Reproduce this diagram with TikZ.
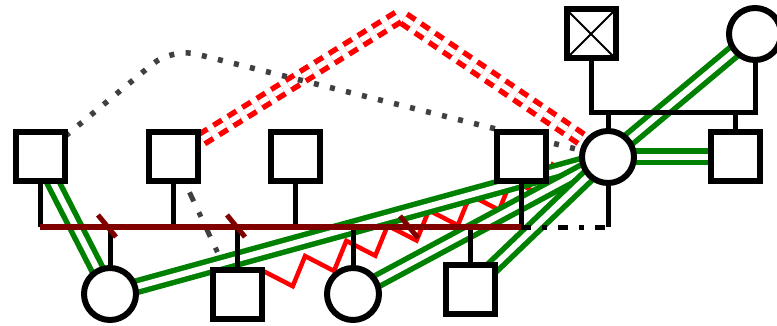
\documentclass[tikz,border=0pt]{standalone}
\usetikzlibrary{decorations.pathmorphing}
\definecolor{relgreen}{RGB}{0,128,0}
\definecolor{sibred}{RGB}{128,0,0}
\definecolor{dgray}{RGB}{64,64,64}
\pgfdeclarelayer{bg}
\pgfsetlayers{bg,main}
\begin{document}
\begin{tikzpicture}[x=1pt,y=-1pt,
  malenode/.style={draw, line width=6pt, minimum size=49pt, inner sep=0pt, fill=white},
  femnode/.style={draw, circle, line width=6pt, minimum size=52pt, inner sep=0pt, fill=white},
  kin/.style={line width=5pt, black},
  sibline/.style={line width=6pt, sibred},
  grn/.style={line width=5.5pt, draw=relgreen, double=white, double distance=6pt},
  feud/.style={line width=5.5pt, red, double=white, double distance=5.5pt, dash pattern=on 10pt off 7pt},
  hostile/.style={line width=4.5pt, red, decorate, decoration={zigzag, segment length=44pt, amplitude=12pt, mirror}},
  distant/.style={line width=5.5pt, dgray, dash pattern=on 5pt off 11.5pt, rounded corners=25pt},
  cutoff/.style={line width=5pt, dgray, dash pattern=on 10pt off 12pt on 5pt off 12pt},
  sepline/.style={line width=5pt, black, dash pattern=on 10pt off 11pt on 5pt off 11pt},
  tickmark/.style={line width=5pt, sibred},
]
\useasboundingbox (0,0) rectangle (777,326);

% persons
\node[malenode] (A) at (40,157) {};
\node[malenode] (B) at (173,157) {};
\node[malenode] (C) at (295,157) {};
\node[malenode] (D) at (521,157) {};
\node[femnode]  (E) at (608,157) {};
\node[malenode] (F) at (735,157) {};
\node[malenode, path picture={
    \draw[line width=2pt] (path picture bounding box.north west) -- (path picture bounding box.south east)
                          (path picture bounding box.north east) -- (path picture bounding box.south west);}]
                (G) at (591,34) {};
\node[femnode]  (H) at (755,34) {};
\node[femnode]  (I) at (110,294) {};
\node[malenode] (J) at (237,294) {};
\node[femnode]  (K) at (353,294) {};
\node[malenode] (L) at (470,289) {};

% helper coordinates
\coordinate (s0) at (40,227);
\coordinate (s1) at (521,227);
\coordinate (tm) at (0,113);
\coordinate (rpk) at (400,16);
\coordinate (dpk) at (172,48);
\coordinate (t1) at (107,226);
\coordinate (t2) at (236,226);
\coordinate (t3) at (409,227);

\begin{pgfonlayer}{bg}
  \draw[feud] (B.center) -- (rpk) -- (E.center);
  \draw[distant] (A.center) -- (dpk) -- (E.center);
  \draw[cutoff] (B.center) -- (J.center);
  \draw[hostile] (J.center) -- (E.center);
  \draw[grn] (A.center) -- (I.center);
  \draw[grn] (I.center) -- (E.center);
  \draw[grn] (K.center) -- (E.center);
  \draw[grn] (L.center) -- (E.center);
  \draw[grn] (E.center) -- (H.center);
  \draw[grn] (E.center) -- (F.center);
  % sibship line and kids
  \draw[kin] (A.center) -- (A.center |- s0);
  \draw[kin] (B.center) -- (B.center |- s0);
  \draw[kin] (C.center) -- (C.center |- s0);
  \draw[kin] (D.center) -- (D.center |- s0);
  \draw[kin] (I.center) -- (I.center |- s0);
  \draw[kin] (J.center) -- (J.center |- s0);
  \draw[kin] (K.center) -- (K.center |- s0);
  \draw[kin] (L.center) -- (L.center |- s0);
  \draw[sibline] (s0) -- (s1);
  \draw[tickmark] ([shift={(-9,-11)}]t1) -- ([shift={(9,11)}]t1);
  \draw[tickmark] ([shift={(-9,-11)}]t2) -- ([shift={(9,11)}]t2);
  \draw[tickmark] ([shift={(-9,-11)}]t3) -- ([shift={(9,11)}]t3);
  % D--E couple
  \draw[sepline] (s1) -- (E.center |- s0);
  \draw[kin] (E.center) -- (E.center |- s0);
  % top couple G--H
  \draw[kin] (G.center) -- (G.center |- tm) -- (H.center |- tm) -- (H.center);
  \draw[kin] (E.center) -- (E.center |- tm);
  \draw[kin] (F.center) -- (F.center |- tm);
\end{pgfonlayer}
\end{tikzpicture}
\end{document}
